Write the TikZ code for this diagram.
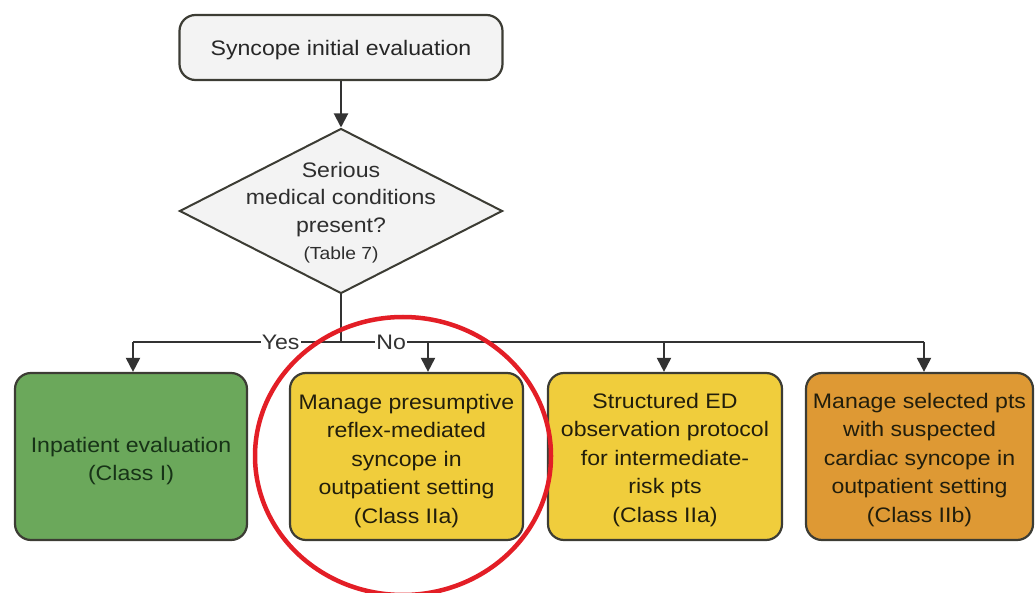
\documentclass[tikz,border=0pt]{standalone}
\usepackage{fontspec}
\setmainfont[FakeStretch=1.1]{Liberation Sans}
\usetikzlibrary{shapes.geometric,arrows.meta}
\definecolor{boxline}{HTML}{3C3C34}
\definecolor{conn}{HTML}{333333}
\definecolor{greenfill}{HTML}{6BA85B}
\definecolor{greentext}{HTML}{173317}
\definecolor{yellowfill}{HTML}{F0CD3C}
\definecolor{orangefill}{HTML}{DE9934}
\definecolor{darktext}{HTML}{221E0C}
\definecolor{grayfill}{HTML}{F3F3F3}
\definecolor{circred}{HTML}{E31E26}
\tikzset{
  basebox/.style={draw=boxline, line width=2.2pt, rounded corners=16pt, inner sep=0pt},
  outbox/.style={basebox, minimum height=167pt},
  boxtext/.style={align=center, inner sep=0pt, font=\fontsize{21}{28.5}\selectfont, text=darktext},
  conline/.style={draw=conn, line width=2pt},
  arr/.style={conline, -{Triangle[width=14pt,length=14pt]}},
  lab/.style={fill=white, inner sep=1pt, font=\fontsize{21}{24}\selectfont, text=conn}
}
\begin{document}
\begin{tikzpicture}[x=1pt,y=-1pt]
\useasboundingbox (0,0) rectangle (1036,593);
% top box
\node[basebox, fill=grayfill, minimum width=323pt, minimum height=65pt] (top) at (341,47.5) {};
\node[boxtext, text=black!85] (toptext) at (341,50.5) {Syncope initial evaluation};
% decision diamond
\node[diamond, draw=boxline, line width=2pt, fill=grayfill, minimum width=323pt, minimum height=165pt, inner sep=0pt] (dia) at (341,211) {};
\node[align=center, inner sep=0pt, text=black!82, font=\fontsize{21}{27.5}\selectfont] (diatext) at (341,212.5)
  {Serious\\medical conditions\\present?\\{\fontsize{17.5}{20}\selectfont (Table 7)}};
% outcome boxes
\node[outbox, fill=greenfill, minimum width=232pt] (b1) at (131,456.5) {};
\node[outbox, fill=yellowfill, minimum width=233pt] (b2) at (406.5,456.5) {};
\node[outbox, fill=yellowfill, minimum width=234pt] (b3) at (665,456.5) {};
\node[outbox, fill=orangefill, minimum width=227pt] (b4) at (919.5,456.5) {};
\node[boxtext, text=greentext] (t1) at (131,461) {Inpatient evaluation\\(Class I)};
\node[boxtext] (t2) at (406.5,461) {Manage presumptive\\reflex-mediated\\syncope in\\outpatient setting\\(Class IIa)};
\node[boxtext] (t3) at (665,460) {Structured ED\\observation protocol\\for intermediate-\\risk pts\\(Class IIa)};
\node[boxtext] (t4) at (919.5,460) {Manage selected pts\\with suspected\\cardiac syncope in\\outpatient setting\\(Class IIb)};
% branch coordinates
\coordinate (split) at (341,342);
\coordinate (c1) at (133,342);
\coordinate (c2) at (428,342);
\coordinate (c3) at (664,342);
\coordinate (c4) at (924,342);
% connectors
\draw[arr] (top.south) -- (dia.north);
\draw[conline] (dia.south) -- (split);
\draw[conline] (split) -- node[lab, pos=0.29] (yes) {Yes} (c1);
\draw[conline] (split) -- node[lab, pos=0.086] (no) {No} (c4);
\draw[arr] (c1) -- (c1 |- b1.north);
\draw[arr] (c2) -- (c2 |- b2.north);
\draw[arr] (c3) -- (c3 |- b3.north);
\draw[arr] (c4) -- (c4 |- b4.north);
% red highlight ellipse
\draw[circred, line width=4.5pt] (403,456) ellipse [x radius=148pt, y radius=139pt];
\end{tikzpicture}
\end{document}
